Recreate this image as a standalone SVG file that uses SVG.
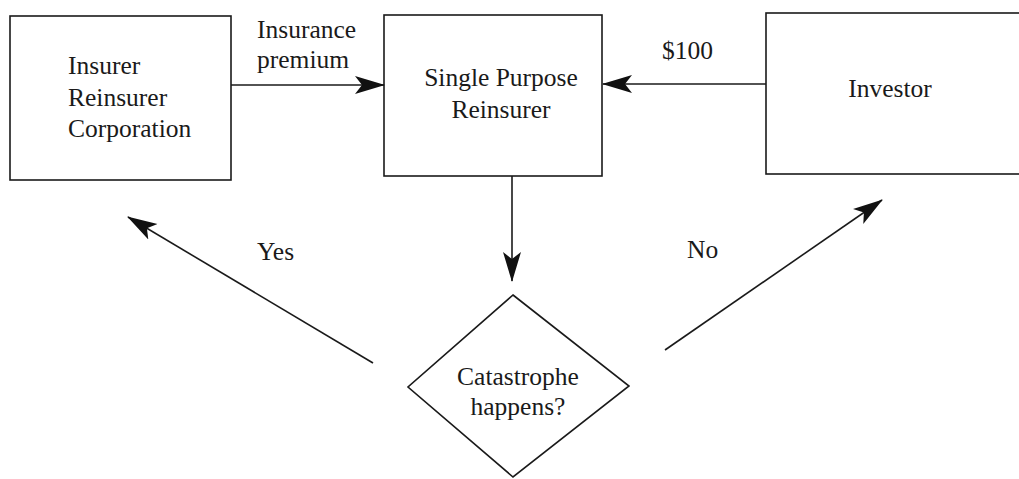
<svg xmlns="http://www.w3.org/2000/svg" width="1019" height="479" viewBox="0 0 1019 479">
<style>
.box{fill:#fff;stroke:#1a1a1a;stroke-width:1.6}
.t{font-family:"Liberation Serif","Times New Roman",serif;font-size:25.5px;fill:#1a1a1a}
.c{text-anchor:middle}
.ln{stroke:#1a1a1a;stroke-width:1.6;fill:none;marker-end:url(#ah)}
</style>
<defs>
<marker id="ah" markerUnits="userSpaceOnUse" markerWidth="30" markerHeight="20" viewBox="0 0 30 20" refX="29" refY="10" orient="auto">
<path d="M0,1 L30,10 L0,19 L7,10 z" fill="#111"/>
</marker>
</defs>
<rect width="1019" height="479" fill="#fff"/>
<g id="insurer">
<rect class="box" x="10" y="16" width="221" height="164"/>
<text class="t" x="68" y="74">Insurer</text>
<text class="t" x="68" y="106">Reinsurer</text>
<text class="t" x="68" y="137">Corporation</text>
</g>
<g id="spr">
<rect class="box" x="384" y="15" width="218" height="161"/>
<text class="t c" x="501" y="86">Single Purpose</text>
<text class="t c" x="501" y="118">Reinsurer</text>
</g>
<g id="investor">
<rect class="box" x="766" y="13" width="260" height="161"/>
<text class="t c" x="890" y="97">Investor</text>
</g>
<g id="decision">
<polygon class="box" points="513,295 629,386 513,477 408,387"/>
<text class="t c" x="518" y="385">Catastrophe</text>
<text class="t c" x="518" y="415">happens?</text>
</g>
<g id="connectors">
<line class="ln" x1="231" y1="85" x2="384" y2="85"/>
<line class="ln" x1="766" y1="84" x2="603" y2="84"/>
<line class="ln" x1="512" y1="176" x2="512" y2="281"/>
<line class="ln" x1="373" y1="363" x2="128" y2="217"/>
<line class="ln" x1="665" y1="350" x2="882" y2="200"/>
<text class="t" x="257" y="38">Insurance</text>
<text class="t" x="257" y="68">premium</text>
<text class="t" x="662" y="59">$100</text>
<text class="t" x="257" y="260">Yes</text>
<text class="t" x="687" y="258">No</text>
</g>
</svg>
